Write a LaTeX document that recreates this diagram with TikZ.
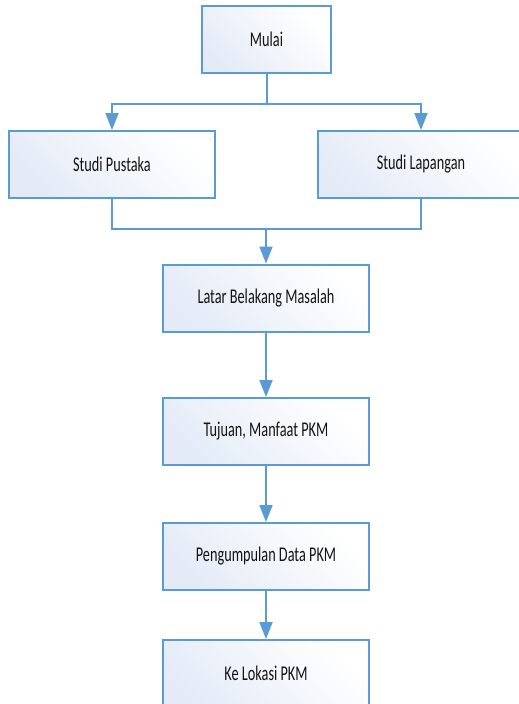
\documentclass[tikz,border=0pt]{standalone}
\usepackage{fontspec}
\setmainfont[FakeStretch=0.68]{Carlito}
\usepackage{tikz}
\usetikzlibrary{arrows.meta}

\definecolor{flowblue}{HTML}{5B9BD5}
\definecolor{boxtint}{HTML}{E4EBF7}
\definecolor{boxtext}{HTML}{141414}

\tikzset{
  stepbox/.style={draw=flowblue, line width=2pt, shading=axis, top color=boxtint, bottom color=white, shading angle=135,
    minimum width=206pt, minimum height=67pt, inner sep=0pt, text=boxtext, font=\fontsize{21}{25}\selectfont},
  flow/.style={draw=flowblue, line width=2pt},
  flowarrow/.style={flow, -{Triangle[length=17pt,width=13pt]}}
}

\begin{document}
\begin{tikzpicture}[x=1pt,y=-1pt]
\clip (0,0) rectangle (519,704);
\node[stepbox, minimum width=129pt] (Mulai) at (266.5,39.5) {Mulai};
\node[stepbox] (Pustaka) at (112,164.5) {Studi Pustaka};
\node[stepbox] (Lapangan) at (421,164.5) {Studi Lapangan};
\node[stepbox] (Latar) at (266,298) {Latar Belakang Masalah};
\node[stepbox] (Tujuan) at (266,431.5) {Tujuan, Manfaat PKM};
\node[stepbox] (Data) at (266,556.5) {Pengumpulan Data PKM};
\node[stepbox] (Lokasi) at (266,673.5) {Ke Lokasi PKM};
\coordinate (Split) at (266.5,104);
\coordinate (Join) at (266,229);
\draw[flow] (Mulai.south) -- (Split);
\draw[flowarrow] (Split) -| (Pustaka.north);
\draw[flowarrow] (Split) -| (Lapangan.north);
\draw[flow] (Pustaka.south) |- (Join);
\draw[flow] (Lapangan.south) |- (Join);
\draw[flowarrow] (Join) -- (Latar.north);
\draw[flowarrow] (Latar) -- (Tujuan);
\draw[flowarrow] (Tujuan) -- (Data);
\draw[flowarrow] (Data) -- (Lokasi);
\end{tikzpicture}
\end{document}
